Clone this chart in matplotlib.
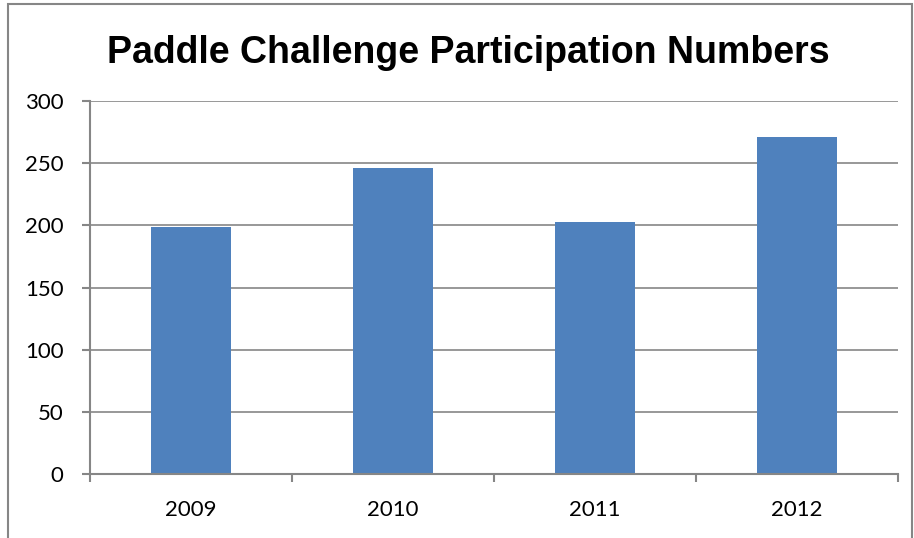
import matplotlib.pyplot as plt
from matplotlib.patches import Rectangle
import numpy as np

# Daten
years = ['2009', '2010', '2011', '2012']
participants = [199, 246, 203, 271]
y_ticks = [0, 50, 100, 150, 200, 250, 300]

fig = plt.figure(figsize=(9.14, 5.38), dpi=100)
ax = fig.add_axes([90 / 914, 1 - 474 / 538, 808 / 914, 373 / 538])

x = np.arange(len(years))
ax.bar(x, participants, width=0.4, color='#4F81BD', zorder=3)

ax.set_xlim(-0.5, len(years) - 0.5)
ax.set_ylim(0, 300)
ax.set_yticks(y_ticks)
ax.set_yticklabels([str(v) for v in y_ticks], fontsize=16, family='Lato')

# Kategorien in der Mitte, Striche an den Grenzen
ax.set_xticks(x)
ax.set_xticklabels(years, fontsize=16, family='Lato')
ax.tick_params(axis='x', length=0, pad=19)
ax.set_xticks(np.arange(len(years) + 1) - 0.5, minor=True)
ax.tick_params(axis='x', which='minor', length=6, color='#868686', width=1.5)
ax.tick_params(axis='y', length=6, color='#868686', width=1.5, pad=13)

ax.grid(axis='y', color='#868686', linewidth=1.2, zorder=0)
for s in ['top', 'right']:
    ax.spines[s].set_visible(False)
for s in ['bottom', 'left']:
    ax.spines[s].set_color('#868686')
    ax.spines[s].set_linewidth(1.5)
    ax.spines[s].set_zorder(4)

fig.text(468 / 914, 1 - 53 / 538, 'Paddle Challenge Participation Numbers',
         ha='center', va='center', fontsize=27, fontweight='bold',
         family='Liberation Sans')

# Rahmen um das Diagramm
fig.patches.append(Rectangle((8 / 914, -0.1), (912 - 8) / 914, 1.1 - 4 / 538,
                             transform=fig.transFigure, fill=False,
                             edgecolor='#868686', linewidth=1.5))

fig.savefig('out.png', dpi=100)
